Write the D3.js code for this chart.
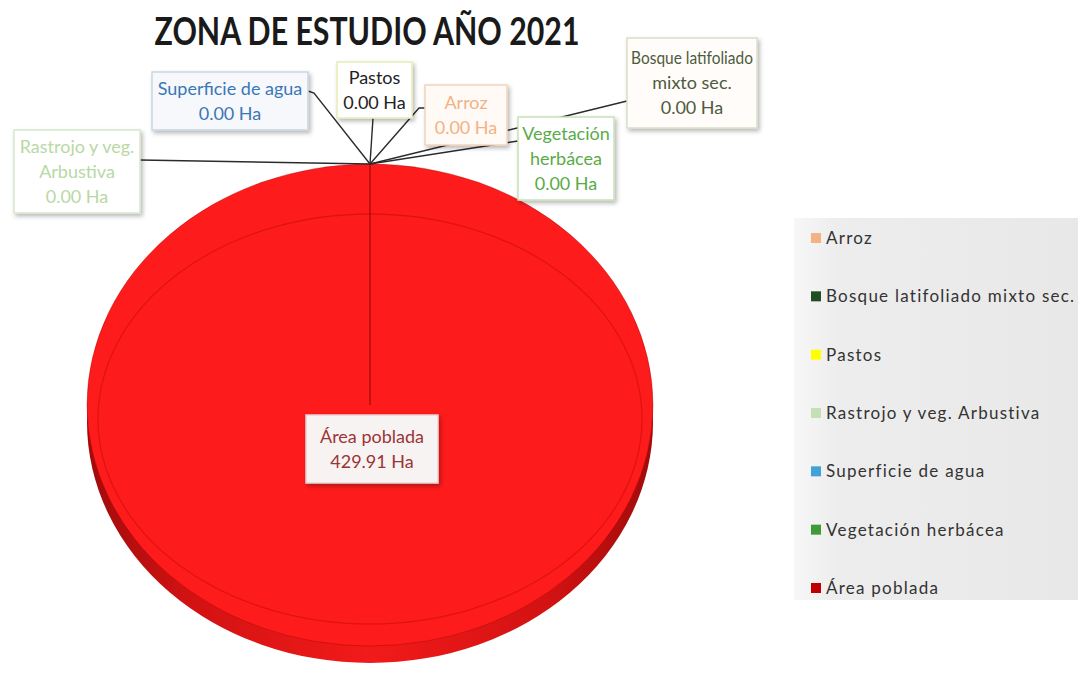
<!DOCTYPE html>
<html>
<head>
<meta charset="utf-8">
<script src="https://cdn.jsdelivr.net/npm/d3@7/dist/d3.min.js"></script>
<style>
  html, body { margin: 0; padding: 0; background: #ffffff; }
  svg { display: block; font-family: Lato, "Open Sans", sans-serif; }
</style>
</head>
<body>
<svg id="chart" width="1078" height="673"></svg>
<script>
// Land-cover classes of the study zone, 2021 (hectares)
const titleText = "ZONA DE ESTUDIO AÑO 2021";
const categories = [
  "Arroz",
  "Bosque latifoliado mixto sec.",
  "Pastos",
  "Rastrojo y veg.  Arbustiva",
  "Superficie de agua",
  "Vegetación herbácea",
  "Área poblada"
];
const hectares = [0, 0, 0, 0, 0, 0, 429.91];
const sliceColors = ["#f4b183", "#1f4e20", "#ffff00", "#c5e0b4", "#3fa3d8", "#3f9a3a", "#c00000"];
// Data-label text lines (name part) for each class
const labelNames = [
  ["Arroz"],
  ["Bosque latifoliado", "mixto sec."],
  ["Pastos"],
  ["Rastrojo y veg.", "Arbustiva"],
  ["Superficie de agua"],
  ["Vegetación", "herbácea"],
  ["Área poblada"]
];
const unit = "Ha";

const svg = d3.select("#chart");
const W = 1078, H = 673;

// squeeze a text element horizontally (about its anchor x) so it fits maxW
function fitWidth(sel, anchorX, maxW) {
  const len = sel.node().getComputedTextLength();
  if (len > maxW) {
    const s = maxW / len;
    sel.attr("transform", `translate(${anchorX},0) scale(${s},1) translate(${-anchorX},0)`);
  }
}

// ---- defs: shadow + gradients ----
const defs = svg.append("defs");
const shadow = defs.append("filter").attr("id", "boxShadow")
  .attr("x", "-20%").attr("y", "-20%").attr("width", "150%").attr("height", "150%");
shadow.append("feDropShadow").attr("dx", 2).attr("dy", 2.5)
  .attr("stdDeviation", 2).attr("flood-color", "#000").attr("flood-opacity", 0.28);

const sideGrad = defs.append("linearGradient").attr("id", "sideGrad")
  .attr("x1", "0%").attr("x2", "100%").attr("y1", "0%").attr("y2", "0%");
[[0, "#a00b0b"], [0.18, "#d21212"], [0.5, "#f21a1a"], [0.82, "#d21212"], [1, "#a00b0b"]]
  .forEach(([o, c]) => sideGrad.append("stop").attr("offset", o).attr("stop-color", c));

const legGrad = defs.append("linearGradient").attr("id", "legGrad")
  .attr("x1", "0%").attr("x2", "100%").attr("y1", "0%").attr("y2", "0%");
[[0, "#f7f7f7"], [0.15, "#ededed"], [1, "#e8e8e8"]]
  .forEach(([o, c]) => legGrad.append("stop").attr("offset", o).attr("stop-color", c));

// ---- title ----
const title = svg.append("text")
  .attr("x", 367).attr("y", 45)
  .attr("text-anchor", "middle")
  .attr("font-size", 38).attr("font-weight", 700)
  .attr("fill", "#1a1a1a")
  .text(titleText);
fitWidth(title, 367, 425);

// ---- tilted pie ----
const cx = 370, cy = 405, rx = 283, ry = 241, depth = 17;
const k = ry / rx;

const pie = d3.pie().sort(null).value(d => d.value);
const data = categories.map((c, i) => ({ name: c, value: hectares[i], color: sliceColors[i], lines: labelNames[i] }));
const arcs = pie(data);
const arc = d3.arc().innerRadius(0).outerRadius(rx);

// extruded side (drawn under the top face)
const side = svg.append("g").attr("transform", `translate(${cx},${cy + depth}) scale(1,${k})`);
side.selectAll("path").data(arcs.filter(d => d.value > 0)).join("path")
  .attr("d", arc)
  .attr("fill", "url(#sideGrad)");

// top face
const face = svg.append("g").attr("transform", `translate(${cx},${cy}) scale(1,${k})`);
face.selectAll("path").data(arcs.filter(d => d.value > 0)).join("path")
  .attr("d", arc)
  .attr("fill", "#fe1b1b")
  .attr("stroke", "rgba(150,0,0,0.35)")
  .attr("stroke-width", 1)
  .attr("vector-effect", "non-scaling-stroke");

// bevel rim on the face
svg.append("ellipse")
  .attr("cx", cx).attr("cy", cy + 14)
  .attr("rx", rx - 11).attr("ry", ry - 36)
  .attr("fill", "none")
  .attr("stroke", "rgba(175,0,0,0.35)")
  .attr("stroke-width", 1.3);

// slice boundary (radial edge at each slice start)
const edgePoint = a => [cx + rx * Math.sin(a), cy - ry * Math.cos(a)];
const starts = Array.from(new Set(arcs.map(d => d.startAngle)));
starts.forEach(a => {
  const p = edgePoint(a);
  svg.append("line")
    .attr("x1", cx).attr("y1", cy).attr("x2", p[0]).attr("y2", p[1])
    .attr("stroke", "rgba(110,0,0,0.75)").attr("stroke-width", 1);
});

// ---- data labels ----
// box placement and leader route for each class label
const labelLayout = {
  "Arroz":                        { x: 425, y: 85,  w: 82,  h: 60, color: "#f4b183", border: "#efd3bd", fill: "#fffaf6", route: [[425, 108], [419, 108]] },
  "Bosque latifoliado mixto sec.":{ x: 627, y: 38,  w: 130, h: 90, color: "#4d5b3e", border: "#d8dfc8", fill: "#fffcfa", route: [[627, 101]] },
  "Pastos":                       { x: 337, y: 62,  w: 75,  h: 56, color: "#222222", border: "#e9ecb5", fill: "#ffffff", route: [[373, 118]] },
  "Rastrojo y veg.  Arbustiva":   { x: 14,  y: 130, w: 126, h: 83, color: "#b8d8a4", border: "#d6e7cb", fill: "#ffffff", route: [[140, 160]] },
  "Superficie de agua":           { x: 152, y: 72,  w: 156, h: 58, color: "#3a77b8", border: "#c9d6e3", fill: "#f6f8fb", route: [[308, 91], [314, 93]] },
  "Vegetación herbácea":          { x: 518, y: 117, w: 96,  h: 83, color: "#5aab47", border: "#c8e2b8", fill: "#ffffff", route: [[518, 141]] },
  "Área poblada":                 { x: 306, y: 415, w: 132, h: 68, color: "#9b3535", border: "#e6d4d4", fill: "#f8f3f3", route: null }
};

const leaders = svg.append("g");
const boxes = svg.append("g");
const fmt = d3.format(".2f");

// draw labels in an order that lets the Arroz box sit over the Bosque leader
const drawOrder = ["Bosque latifoliado mixto sec.", "Vegetación herbácea", "Rastrojo y veg.  Arbustiva",
  "Superficie de agua", "Pastos", "Arroz", "Área poblada"];

drawOrder.forEach(name => {
  const d = arcs.find(a => a.data.name === name);
  const L = labelLayout[name];
  if (L.route) {
    const anchor = edgePoint((d.startAngle + d.endAngle) / 2);
    const pts = L.route.concat([anchor]);
    leaders.append("path")
      .attr("d", d3.line()(pts))
      .attr("fill", "none")
      .attr("stroke", "#2b2b2b")
      .attr("stroke-width", 1.4);
  }
  const g = boxes.append("g");
  g.append("rect")
    .attr("x", L.x).attr("y", L.y).attr("width", L.w).attr("height", L.h)
    .attr("fill", L.fill).attr("stroke", L.border).attr("stroke-width", 1.5)
    .attr("filter", "url(#boxShadow)");
  const lines = d.data.lines.concat([`${fmt(d.data.value)} ${unit}`]);
  const lh = 25;
  const y0 = L.y + L.h / 2 - (lines.length - 1) * lh / 2;
  const mx = L.x + L.w / 2;
  lines.forEach((t, i) => {
    const tx = g.append("text")
      .attr("x", mx).attr("y", y0 + i * lh)
      .attr("dy", "0.35em")
      .attr("text-anchor", "middle")
      .attr("font-size", 18)
      .attr("fill", L.color)
      .text(t);
    fitWidth(tx, mx, L.w - 8);
  });
});

// ---- legend ----
const legend = svg.append("g");
legend.append("rect")
  .attr("x", 794).attr("y", 218).attr("width", W - 794).attr("height", 382)
  .attr("fill", "url(#legGrad)");

const legY = d3.scalePoint().domain(categories).range([238, 588]);
const items = legend.selectAll("g.item").data(data).join("g")
  .attr("class", "item")
  .attr("transform", d => `translate(811,${legY(d.name)})`);
items.append("rect")
  .attr("x", 0).attr("y", -5).attr("width", 10).attr("height", 10)
  .attr("fill", d => d.color);
items.append("text")
  .attr("x", 15).attr("y", 0).attr("dy", "0.36em")
  .attr("font-size", 17)
  .attr("letter-spacing", 1.25)
  .attr("fill", "#333333")
  .text(d => d.name);
</script>
</body>
</html>
